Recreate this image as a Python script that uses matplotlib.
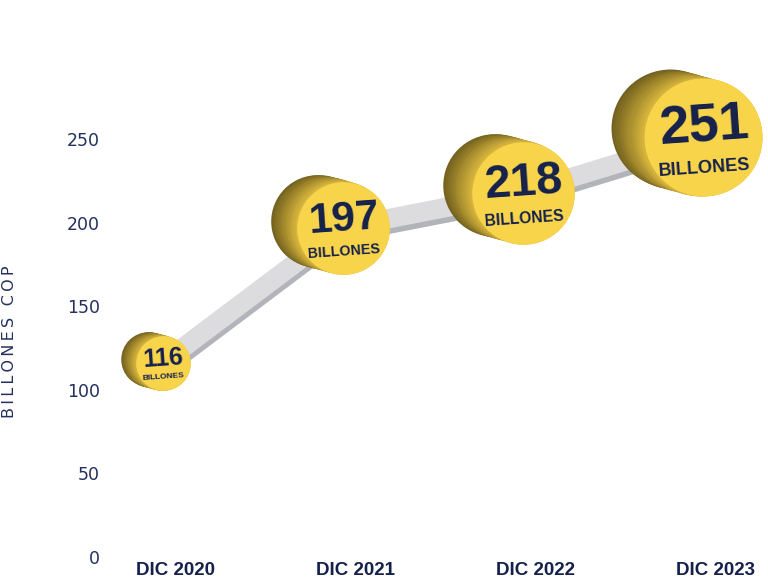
import numpy as np
import matplotlib.pyplot as plt
from matplotlib import transforms
from matplotlib.colors import to_rgb

# data
categories = ["DIC 2020", "DIC 2021", "DIC 2022", "DIC 2023"]
values = [116, 197, 218, 251]
y_ticks = [0, 50, 100, 150, 200, 250]
unit_label = "BILLONES"
axis_title = "BILLONES COP"

# colours
NAVY = "#15214b"
AXIS_TXT = "#23305e"
FACE = "#f8d44b"
SIDE_BACK = "#74621f"
SIDE_FRONT = "#dcb93e"
RIBBON = "#dcdcde"
RIBBON_EDGE = "#b3b4b9"
COIN_FONT = ["Liberation Sans", "DejaVu Sans"]

fig = plt.figure(figsize=(7.68, 5.82), dpi=100)
ax = fig.add_axes([105 / 768, 25 / 582, 663 / 768, 557 / 582])
x = np.arange(len(categories))
ax.set_xlim(-70 / 180, 593 / 180)
ax.set_ylim(0, 557 / 1.672)


def shifted(dx, dy):
    return transforms.offset_copy(ax.transData, fig=fig, x=dx, y=dy, units="points")


# grey ribbon behind the coins
ax.plot(x, values, lw=17, color=RIBBON_EDGE, solid_capstyle="butt",
        transform=shifted(-9, -2.5), zorder=1)
ax.plot(x, values, lw=14, color=RIBBON, solid_capstyle="butt",
        transform=shifted(-9, 0), zorder=2)

# coins: stacked discs give the cylinder side, then the flat face
back = np.array(to_rgb(SIDE_BACK))
front = np.array(to_rgb(SIDE_FRONT))
n_layers = 16
coin_dx = -9  # points, coins sit a little left of the tick label
for i, v in enumerate(values):
    r_pt = 0.235 * v * 0.72
    size = (2 * r_pt) ** 2
    dx, dy = -0.55 * r_pt, 0.15 * r_pt
    for k in range(n_layers):
        t = k / (n_layers - 1)
        col = back * (1 - t) + front * t
        ax.scatter([i], [v], s=size, color=[col], linewidths=0,
                   transform=shifted(coin_dx + dx * (1 - t), dy * (1 - t)),
                   zorder=3 + i * 0.1)
    ax.scatter([i], [v], s=size, color=FACE, linewidths=0,
               transform=shifted(coin_dx, 0), zorder=3.05 + i * 0.1)

    ax.annotate(str(v), (i, v), xytext=(coin_dx + 0.02 * r_pt, 0.17 * r_pt),
                textcoords="offset points", ha="center", va="center",
                fontsize=v * 0.155, fontweight="bold", color=NAVY, rotation=4,
                family=COIN_FONT, zorder=5)
    ax.annotate(unit_label, (i, v), xytext=(coin_dx + 0.03 * r_pt, -0.52 * r_pt),
                textcoords="offset points", ha="center", va="center",
                fontsize=v * 0.052, fontweight="bold", color=NAVY, rotation=4,
                family=COIN_FONT, zorder=5)

# axes styling
ax.set_yticks(y_ticks)
ax.set_yticklabels([str(t) for t in y_ticks], fontsize=12.5, color=AXIS_TXT)
ax.set_xticks(x)
ax.set_xticklabels(categories, fontsize=13.5, fontweight="bold", color=NAVY,
                   family=COIN_FONT)
ax.tick_params(axis="y", length=0, pad=3.6)
ax.tick_params(axis="x", length=0, pad=3.5)
for s in ax.spines.values():
    s.set_visible(False)
ax.patch.set_alpha(0)

fig.text(10 / 768, 1 - 342 / 582, "\u2009".join(axis_title), rotation=90,
         ha="center", va="center", fontsize=11.5, color=AXIS_TXT)

fig.savefig("out.png", dpi=100)
